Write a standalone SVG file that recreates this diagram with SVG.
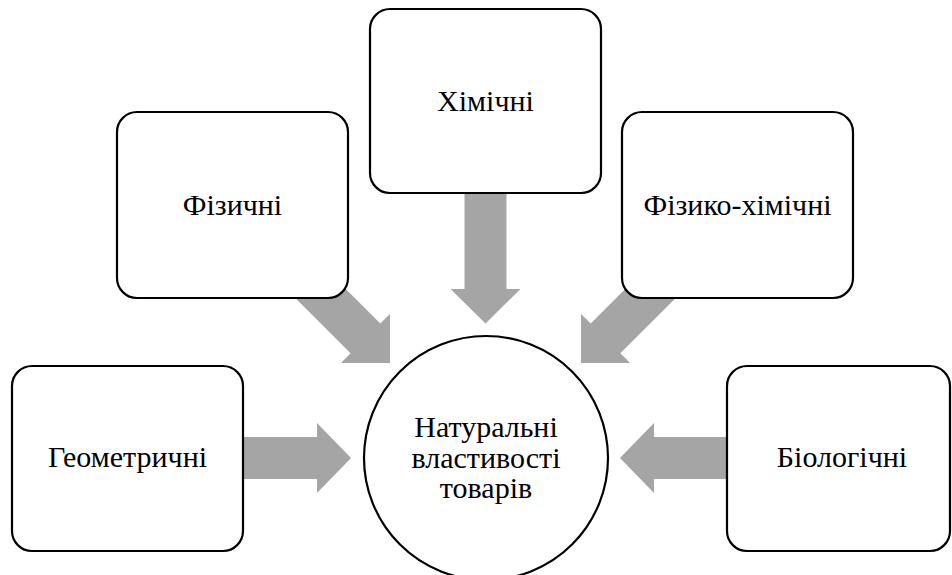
<svg xmlns="http://www.w3.org/2000/svg" width="952" height="575" viewBox="0 0 952 575">
<style>
.box{fill:#fff;stroke:#000;stroke-width:2.2}
.arr{fill:#a5a5a5;stroke:none}
</style>
<rect width="952" height="575" fill="#fff"/>
<g id="connectors">
<polygon class="arr" points="200,437 317,437 317,423 351,458 317,493 317,479 200,479"/>
<polygon class="arr" points="760,437 654,437 654,423 620,458 654,493 654,479 760,479"/>
<polygon class="arr" points="464.5,150 506.5,150 506.5,289 520.5,289 485.5,323.5 450.5,289 464.5,289"/>
<polygon class="arr" points="316.7,260 380.3,323.6 390,314 390,363 341,363 350.6,353.3 287,289.7"/>
<polygon class="arr" points="654.3,260 590.7,323.6 581,314 581,363 630,363 620.4,353.3 684,289.7"/>
</g>
<g id="center">
<circle class="box" cx="486" cy="458" r="122"/>
<text x="486" y="437" font-family="Liberation Serif" font-size="30" text-anchor="middle">Натуральні</text>
<text x="486" y="467.5" font-family="Liberation Serif" font-size="30" text-anchor="middle">властивості</text>
<text x="486" y="498" font-family="Liberation Serif" font-size="30" text-anchor="middle">товарів</text>
</g>
<g id="chem">
<rect class="box" x="370" y="9" width="231" height="184" rx="20"/>
<text x="485.5" y="111" font-family="Liberation Serif" font-size="30" text-anchor="middle">Хімічні</text>
</g>
<g id="phys">
<rect class="box" x="117" y="112" width="231" height="186" rx="20"/>
<text x="232.5" y="215" font-family="Liberation Serif" font-size="30" text-anchor="middle">Фізичні</text>
</g>
<g id="physchem">
<rect class="box" x="622" y="112" width="231" height="186" rx="20"/>
<text x="737.5" y="215" font-family="Liberation Serif" font-size="30" text-anchor="middle">Фізико-хімічні</text>
</g>
<g id="geom">
<rect class="box" x="12" y="366" width="231" height="185" rx="20"/>
<text x="127.5" y="467" font-family="Liberation Serif" font-size="30" text-anchor="middle">Геометричні</text>
</g>
<g id="bio">
<rect class="box" x="727" y="366" width="223" height="185" rx="20"/>
<text x="842" y="467" font-family="Liberation Serif" font-size="30" text-anchor="middle">Біологічні</text>
</g>
</svg>
